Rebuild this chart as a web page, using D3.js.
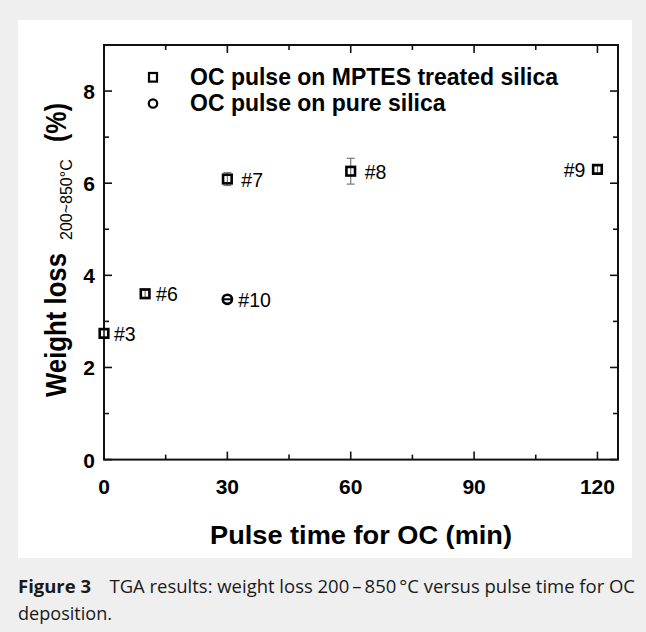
<!DOCTYPE html>
<html>
<head>
<meta charset="utf-8">
<script src="https://cdn.jsdelivr.net/npm/d3@7"></script>
<style>
  body { margin: 0; background: #efefef; }
</style>
</head>
<body>
<div id="chart"></div>
<script>
// samples with MPTES treated silica (squares)
const treatedLabels = ["#3", "#6", "#7", "#8", "#9"];
const treatedTime = [0, 10, 30, 60, 120];
const treatedLoss = [2.74, 3.6, 6.09, 6.26, 6.3];
const treatedErr = [0.08, 0.08, 0.14, 0.28, 0.08];
// pure silica (circle)
const pureLabels = ["#10"];
const pureTime = [30];
const pureLoss = [3.48];

const xTicks = [0, 30, 60, 90, 120];
const yTicks = [0, 2, 4, 6, 8];

const W = 646, H = 632;
const margin = {top: 45, right: 28, bottom: 172.4, left: 104};
const width = W - margin.left - margin.right;
const height = H - margin.top - margin.bottom;

const svg = d3.select("#chart").append("svg")
  .attr("width", W).attr("height", H);

// white panel
svg.append("rect").attr("x", 18).attr("y", 20).attr("width", 614).attr("height", 538)
  .attr("fill", "#fff");

const g = svg.append("g").attr("transform", "translate(" + margin.left + "," + margin.top + ")");

const x = d3.scaleLinear().domain([0, 125]).range([0, width]);
const y = d3.scaleLinear().domain([0, 9]).range([height, 0]);

const font = "'Liberation Sans', Arial, sans-serif";

// frame
g.append("rect").attr("width", width).attr("height", height)
  .attr("fill", "none").attr("stroke", "#111").attr("stroke-width", 2);

// ticks (inward, on all four sides)
const xMinor = d3.range(15, 125, 30);
const yMinor = d3.range(1, 9, 2);
const tickG = g.append("g").attr("stroke", "#111").attr("stroke-width", 1.6);
xTicks.concat(xMinor).forEach(v => {
  const len = xTicks.includes(v) ? 8 : 5;
  tickG.append("line").attr("x1", x(v)).attr("x2", x(v)).attr("y1", height).attr("y2", height - len);
  tickG.append("line").attr("x1", x(v)).attr("x2", x(v)).attr("y1", 0).attr("y2", len);
});
yTicks.concat(yMinor).forEach(v => {
  const len = yTicks.includes(v) ? 8 : 5;
  tickG.append("line").attr("y1", y(v)).attr("y2", y(v)).attr("x1", 0).attr("x2", len);
  tickG.append("line").attr("y1", y(v)).attr("y2", y(v)).attr("x1", width).attr("x2", width - len);
});

// tick labels
g.append("g").selectAll("text").data(xTicks).join("text")
  .attr("x", d => x(d)).attr("y", height + 34)
  .attr("text-anchor", "middle")
  .style("font-family", font).attr("font-weight", "bold").attr("font-size", 21)
  .text(d => d);
g.append("g").selectAll("text").data(yTicks).join("text")
  .attr("x", -9).attr("y", d => y(d) + 8)
  .attr("text-anchor", "end")
  .style("font-family", font).attr("font-weight", "bold").attr("font-size", 21)
  .text(d => d);

// x axis title
svg.append("text")
  .attr("x", 210).attr("y", 544)
  .attr("textLength", 302).attr("lengthAdjust", "spacingAndGlyphs")
  .style("font-family", font).attr("font-weight", "bold").attr("font-size", 26)
  .text("Pulse time for OC (min)");

// y axis title, built in pieces along the rotated axis
const yTitle = svg.append("g").attr("transform", "translate(66,397) rotate(-90)");
yTitle.append("text").attr("x", 0).attr("y", 0)
  .attr("textLength", 144).attr("lengthAdjust", "spacingAndGlyphs")
  .style("font-family", font).attr("font-weight", "bold").attr("font-size", 29)
  .text("Weight loss");
yTitle.append("text").attr("x", 157).attr("y", 6)
  .style("font-family", font).attr("font-size", 16)
  .text("200~850°C");
yTitle.append("text").attr("x", 255).attr("y", 0)
  .attr("textLength", 39).attr("lengthAdjust", "spacingAndGlyphs")
  .style("font-family", font).attr("font-weight", "bold").attr("font-size", 29)
  .text("(%)");

// error bars
const treated = treatedTime.map((t, i) => ({t, v: treatedLoss[i], e: treatedErr[i], label: treatedLabels[i]}));
const pure = pureTime.map((t, i) => ({t, v: pureLoss[i], label: pureLabels[i]}));

const eb = g.append("g").attr("stroke", "#777").attr("stroke-width", 1.2);
treated.forEach(d => {
  eb.append("line").attr("x1", x(d.t)).attr("x2", x(d.t)).attr("y1", y(d.v - d.e)).attr("y2", y(d.v + d.e));
  [d.v - d.e, d.v + d.e].forEach(c => {
    eb.append("line").attr("x1", x(d.t) - 4).attr("x2", x(d.t) + 4).attr("y1", y(c)).attr("y2", y(c));
  });
});

// markers
g.append("g").selectAll("rect").data(treated).join("rect")
  .attr("x", d => x(d.t) - 4.3).attr("y", d => y(d.v) - 4.3)
  .attr("width", 8.6).attr("height", 8.6)
  .attr("fill", "none").attr("stroke", "#000").attr("stroke-width", 2.6);

g.append("g").selectAll("circle").data(pure).join("circle")
  .attr("cx", d => x(d.t)).attr("cy", d => y(d.v)).attr("r", 4.6)
  .attr("fill", "none").attr("stroke", "#000").attr("stroke-width", 2.6);
g.append("g").selectAll("line").data(pure).join("line")
  .attr("x1", d => x(d.t) - 4).attr("x2", d => x(d.t) + 4)
  .attr("y1", d => y(d.v)).attr("y2", d => y(d.v))
  .attr("stroke", "#000").attr("stroke-width", 2);

// point labels
const labelDx = {"#3": 10, "#6": 11, "#7": 14, "#8": 14, "#9": -12, "#10": 11};
g.append("g").selectAll("text").data(treated.concat(pure)).join("text")
  .attr("x", d => x(d.t) + labelDx[d.label])
  .attr("y", d => y(d.v) + 7.5)
  .attr("text-anchor", d => labelDx[d.label] < 0 ? "end" : "start")
  .style("font-family", font).attr("font-size", 19.5)
  .text(d => d.label);

// legend
const legend = svg.append("g");
legend.append("rect").attr("x", 149).attr("y", 73).attr("width", 8).attr("height", 8.6)
  .attr("fill", "none").attr("stroke", "#000").attr("stroke-width", 2.2);
legend.append("circle").attr("cx", 153).attr("cy", 103.5).attr("r", 4.2)
  .attr("fill", "none").attr("stroke", "#000").attr("stroke-width", 2.2);
const leg1 = legend.append("text").attr("x", 190).attr("y", 85)
  .style("font-family", font).attr("font-weight", "bold").attr("font-size", 24)
  .text("OC pulse on MPTES treated silica");
const leg2 = legend.append("text").attr("x", 190).attr("y", 110.5)
  .style("font-family", font).attr("font-weight", "bold").attr("font-size", 24)
  .text("OC pulse on pure silica");
const squeeze = 368 / leg1.node().getComputedTextLength();
[leg1, leg2].forEach(t => {
  t.attr("textLength", t.node().getComputedTextLength() * squeeze).attr("lengthAdjust", "spacingAndGlyphs");
});

// caption
const capFont = "'Open Sans', sans-serif";
const cap = svg.append("text").attr("x", 18).attr("y", 593)
  .style("font-family", capFont).attr("font-size", 18)
  .attr("textLength", 617).attr("lengthAdjust", "spacingAndGlyphs")
  .attr("fill", "#1a1a1a");
cap.append("tspan").attr("font-weight", "bold").text("Figure 3");
cap.append("tspan").text("\u2003TGA results: weight loss 200\u2009\u2013\u2009850\u2009°C versus pulse time for OC");
svg.append("text").attr("x", 18).attr("y", 620)
  .style("font-family", capFont).attr("font-size", 18)
  .attr("textLength", 94).attr("lengthAdjust", "spacingAndGlyphs")
  .attr("fill", "#1a1a1a")
  .text("deposition.");
</script>
</body>
</html>
